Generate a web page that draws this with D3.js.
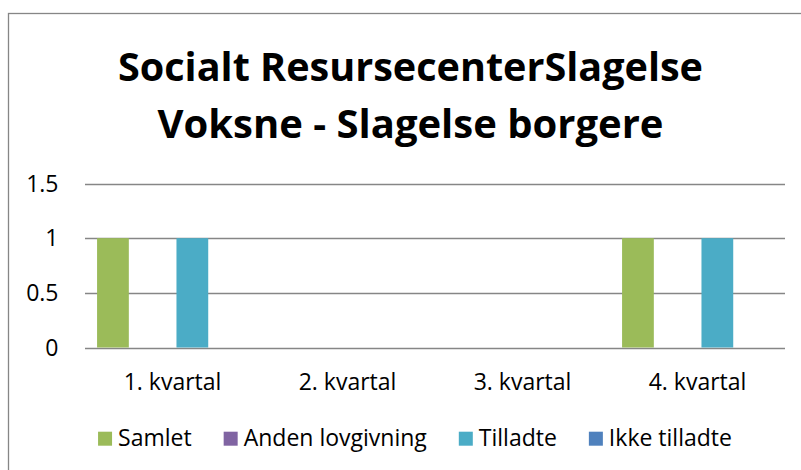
<!DOCTYPE html>
<html>
<head>
<meta charset="utf-8">
<script src="https://cdn.jsdelivr.net/npm/d3@7"></script>
<style>
  html, body { margin: 0; padding: 0; background: #fff; }
  svg { display: block; }
  text { font-family: "Open Sans", "Noto Sans", sans-serif; fill: #000; }
</style>
</head>
<body>
<svg id="chart" width="801" height="470"></svg>
<script>
var titleLines = ['Socialt ResursecenterSlagelse', 'Voksne - Slagelse borgere'];
var categories = ['1. kvartal', '2. kvartal', '3. kvartal', '4. kvartal'];
var seriesNames = ['Samlet', 'Anden lovgivning', 'Tilladte', 'Ikke tilladte'];
var seriesColors = ['#9bbb59', '#8064a2', '#4bacc6', '#4f81bd'];
var samlet = [1, 0, 0, 1];
var andenLovgivning = [0, 0, 0, 0];
var tilladte = [1, 0, 0, 1];
var ikkeTilladte = [0, 0, 0, 0];
var yTicks = [0, 0.5, 1, 1.5];

(function () {
    var svg = d3.select('#chart');
    var series = [samlet, andenLovgivning, tilladte, ikkeTilladte];

    // outer chart border (cut off at the right and bottom)
    svg.append('rect')
        .attr('x', 8.5).attr('y', 13.5)
        .attr('width', 820).attr('height', 480)
        .attr('fill', '#fff')
        .attr('stroke', '#868686')
        .attr('stroke-width', 1.3);

    // title
    var titleY = [81, 138];
    var titleW = [585, 504];
    svg.selectAll('.title').data(titleLines).enter().append('text')
        .attr('class', 'title')
        .attr('x', 410.5)
        .attr('y', function (d, i) { return titleY[i]; })
        .attr('text-anchor', 'middle')
        .style('font-size', '40px')
        .style('font-weight', 'bold')
        .text(function (d) { return d; })
        .each(function (d, i) {
            var w = this.getComputedTextLength();
            if (Math.abs(w - titleW[i]) > 4) {
                d3.select(this).attr('textLength', titleW[i]).attr('lengthAdjust', 'spacingAndGlyphs');
            }
        });

    var left = 85, right = 785;
    var x0 = d3.scaleBand().domain(categories).range([left, right]).padding(0);
    var x1 = d3.scaleBand().domain(d3.range(seriesNames.length))
        .range([0, x0.bandwidth()])
        .paddingInner(0.2).paddingOuter(0.304);
    var y = d3.scaleLinear().domain([0, 1.5]).range([347.5, 183.5]);

    // gridlines
    svg.append('g').selectAll('line').data(yTicks).enter().append('line')
        .attr('x1', left).attr('x2', right)
        .attr('y1', function (d) { return Math.round(y(d)) + 0.5; })
        .attr('y2', function (d) { return Math.round(y(d)) + 0.5; })
        .attr('stroke', '#868686')
        .attr('stroke-width', 1.3);

    // y tick labels
    svg.append('g').selectAll('text').data(yTicks).enter().append('text')
        .attr('x', 58.5)
        .attr('y', function (d) { return y(d); })
        .attr('dy', '0.36em')
        .attr('text-anchor', 'end')
        .style('font-size', '23px')
        .text(function (d) { return d3.format('')(d); });

    // bars
    var groups = svg.append('g').selectAll('g').data(categories).enter().append('g')
        .attr('transform', function (d) { return 'translate(' + x0(d) + ',0)'; });

    groups.selectAll('rect')
        .data(function (d, ci) {
            return series.map(function (s, si) { return { si: si, v: s[ci] }; });
        })
        .enter().append('rect')
        .filter(function (d) { return d.v > 0; })
        .attr('x', function (d) { return x1(d.si); })
        .attr('width', x1.bandwidth())
        .attr('y', function (d) { return y(d.v); })
        .attr('height', function (d) { return y(0) - y(d.v); })
        .attr('fill', function (d) { return seriesColors[d.si]; });

    // x labels
    svg.append('g').selectAll('text').data(categories).enter().append('text')
        .attr('x', function (d) { return x0(d) + x0.bandwidth() / 2; })
        .attr('y', 390)
        .attr('text-anchor', 'middle')
        .style('font-size', '23px')
        .text(function (d) { return d; });

    // legend
    var legend = svg.append('g');
    var items = legend.selectAll('g').data(seriesNames).enter().append('g');
    items.append('rect')
        .attr('width', 14).attr('height', 14)
        .attr('y', 431.7)
        .attr('fill', function (d, i) { return seriesColors[i]; });
    items.append('text')
        .attr('x', 20)
        .attr('y', 445.7)
        .style('font-size', '23px')
        .text(function (d) { return d; });

    var xs = [], cur = 0;
    items.each(function () {
        xs.push(cur);
        cur += 20 + d3.select(this).select('text').node().getComputedTextLength() + 32;
    });
    var total = cur - 32;
    var start = 415 - total / 2;
    items.attr('transform', function (d, i) { return 'translate(' + (start + xs[i]) + ',0)'; });
})();
</script>
</body>
</html>
